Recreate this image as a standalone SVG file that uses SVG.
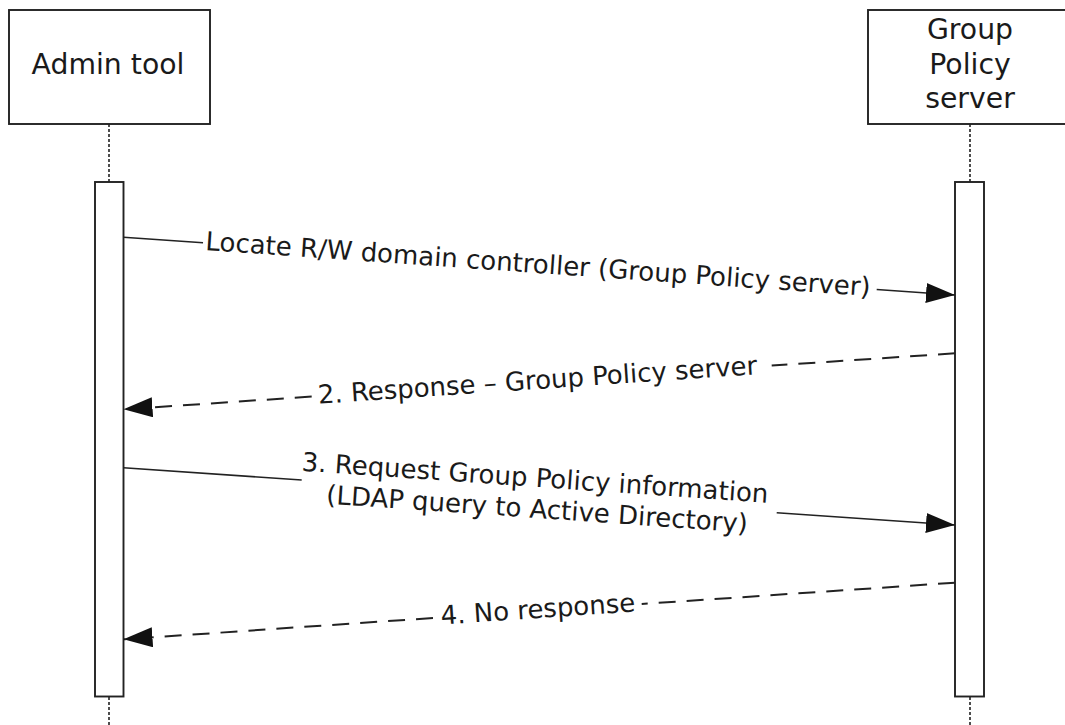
<svg xmlns="http://www.w3.org/2000/svg" width="1065" height="725" viewBox="0 0 1065 725">
  <style>
    .box { fill: #ffffff; stroke: #222222; stroke-width: 1.9; }
    .life { stroke: #222222; stroke-width: 1.6; stroke-dasharray: 3 2; fill: none; }
    .title { font-family: "DejaVu Sans", Verdana, sans-serif; font-size: 28.3px; fill: #1a1a1a; text-anchor: middle; }
    .lbl { font-family: "DejaVu Sans", Verdana, sans-serif; font-size: 26px; fill: #1a1a1a; text-anchor: middle; }
    .msg { stroke: #222222; stroke-width: 1.6; fill: none; }
    .dash { stroke-dasharray: 17 11; stroke-width: 2; }
  </style>
  <defs>
    <marker id="arrow" markerUnits="userSpaceOnUse" markerWidth="32" markerHeight="22" refX="29" refY="10" orient="auto">
      <path d="M0,0 L29,10 L0,20 z" fill="#111111"/>
    </marker>
  </defs>
  <rect width="1065" height="725" fill="#ffffff"/>

  <g id="admin-tool">
    <line class="life" x1="109" y1="124" x2="109" y2="182"/>
    <line class="life" x1="109" y1="697" x2="109" y2="725"/>
    <rect class="box" x="9" y="10" width="201" height="114"/>
    <text class="title" x="108" y="74">Admin tool</text>
    <rect class="box" x="95" y="182" width="28.5" height="514.5"/>
  </g>

  <g id="group-policy-server">
    <line class="life" x1="970" y1="124" x2="970" y2="182"/>
    <line class="life" x1="970" y1="697" x2="970" y2="725"/>
    <rect class="box" x="868" y="10" width="204" height="114"/>
    <text class="title" x="970" y="39">Group</text>
    <text class="title" x="970" y="74">Policy</text>
    <text class="title" x="970" y="108">server</text>
    <rect class="box" x="955" y="182" width="29" height="514.5"/>
  </g>

  <g id="connectors">
    <g id="msg1">
      <line class="msg" x1="123.5" y1="237.3" x2="203" y2="242.8"/>
      <line class="msg" x1="876.7" y1="289.5" x2="955" y2="295" marker-end="url(#arrow)"/>
      <text class="lbl" x="538" y="273" transform="rotate(3.96 538 266.1)">Locate R/W domain controller (Group Policy server)</text>
    </g>
    <g id="msg2">
      <line class="msg dash" x1="955" y1="353.3" x2="771.7" y2="365.6"/>
      <line class="msg dash" x1="311.7" y1="396.6" x2="123.5" y2="409.3" marker-end="url(#arrow)"/>
      <text class="lbl" x="537.5" y="389" transform="rotate(-3.85 537.5 381.4)">2. Response – Group Policy server</text>
    </g>
    <g id="msg3">
      <line class="msg" x1="123.5" y1="467.7" x2="301.7" y2="480"/>
      <line class="msg" x1="776.7" y1="512.7" x2="955" y2="525" marker-end="url(#arrow)"/>
      <text class="lbl" transform="rotate(3.94 538 496.3)">
        <tspan x="538" y="487">3. Request Group Policy information</tspan>
        <tspan x="538" y="518">(LDAP query to Active Directory)</tspan>
      </text>
    </g>
    <g id="msg4">
      <line class="msg dash" x1="955" y1="582.7" x2="641.7" y2="604"/>
      <line class="msg dash" x1="433" y1="618" x2="123.5" y2="639.3" marker-end="url(#arrow)"/>
      <text class="lbl" x="538" y="618" transform="rotate(-3.89 538 611)">4. No response</text>
    </g>
  </g>
</svg>
